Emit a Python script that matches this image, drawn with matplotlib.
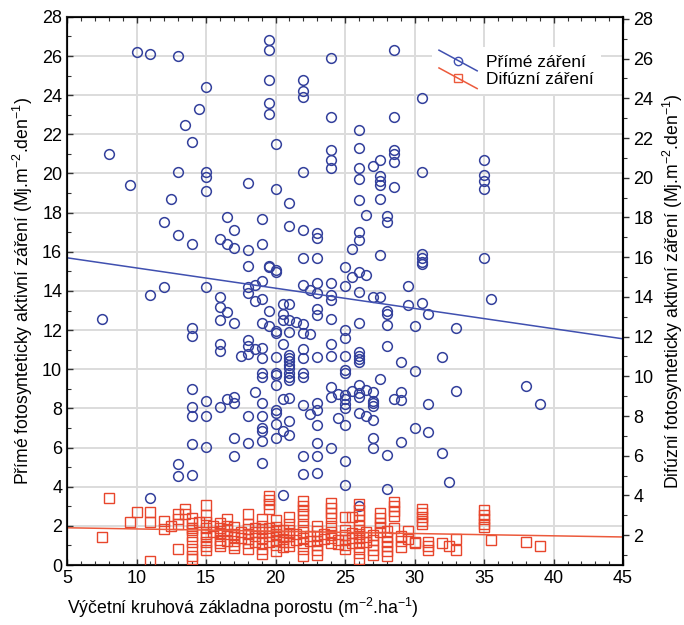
import matplotlib
matplotlib.use("Agg")
import matplotlib.pyplot as plt
from matplotlib.lines import Line2D
from matplotlib.legend_handler import HandlerBase
from matplotlib.ticker import MultipleLocator

plt.rcParams['font.family'] = ['Liberation Sans', 'DejaVu Sans']
plt.rcParams['mathtext.fontset'] = 'custom'
plt.rcParams['mathtext.rm'] = 'Liberation Sans'
plt.rcParams['mathtext.it'] = 'Liberation Sans:italic'

# Přímé záření - sloupce x a hodnoty y
prime_gx = [7.5, 8, 9.5, 10, 11, 12, 12.5, 13, 13.5, 14, 14.5, 15, 16, 16.5, 17, 17.5, 18, 18.5,
            19, 19.5, 20, 20.5, 21, 21.5, 22, 22.5, 23, 24, 24.5, 25, 25.5, 26, 26.5, 27, 27.5,
            28, 28.5, 29, 29.5, 30, 30.5, 31, 32, 32.5, 33, 35, 35.5, 38, 39]
prime_gy = [
    [12.55], [21.0], [19.4], [26.2], [26.1, 13.8, 3.4], [17.5, 14.2], [18.7],
    [26.0, 20.1, 16.85, 5.15, 4.55], [22.5],
    [21.6, 16.4, 12.1, 11.7, 9.0, 8.05, 7.6, 6.2, 4.6], [23.3],
    [24.4, 20.1, 19.8, 19.1, 14.2, 8.4, 7.6, 6.05],
    [16.65, 13.7, 13.2, 12.5, 11.3, 10.95, 8.05],
    [17.8, 16.4, 12.9, 8.5],
    [17.1, 16.2, 12.35, 8.6, 8.25, 6.5, 5.55], [10.7],
    [19.5, 16.1, 15.25, 14.2, 13.9, 11.5, 11.2, 10.8, 7.6, 6.25],
    [14.3, 13.5, 11.05, 8.85],
    [17.7, 16.4, 14.5, 13.6, 12.35, 11.1, 10.55, 9.8, 9.6, 8.3, 7.6, 7.0, 6.85, 6.35, 5.2],
    [26.8, 26.3, 24.8, 23.6, 23.05, 15.25, 15.2, 13.0, 12.2],
    [21.5, 19.2, 15.05, 14.95, 11.95, 11.85, 10.65, 9.8, 9.7, 9.2, 7.9, 7.75, 7.2, 6.5],
    [13.35, 12.8, 12.5, 11.3, 8.5, 6.85, 3.6],
    [18.5, 17.3, 13.35, 12.5, 11.9, 10.75, 10.55, 10.4, 10.2, 10.05, 9.8, 9.6, 9.45, 8.55, 7.35, 6.65],
    [12.4],
    [24.8, 24.2, 23.9, 20.1, 17.1, 15.7, 14.3, 12.3, 11.85, 11.05, 10.55, 9.8, 9.6, 8.15, 5.55, 4.65],
    [14.05, 11.8, 7.7],
    [16.95, 16.7, 15.7, 14.4, 13.9, 13.1, 12.75, 10.6, 8.3, 7.9, 7.15, 6.25, 5.55, 4.7],
    [25.9, 22.9, 21.2, 20.7, 20.3, 14.4, 13.8, 13.55, 12.55, 11.3, 10.7, 9.1, 8.6, 6.0],
    [8.75, 7.5],
    [15.2, 14.25, 12.0, 11.6, 10.7, 9.95, 9.8, 8.7, 8.5, 8.2, 8.0, 7.15, 5.3, 4.1],
    [16.15, 14.7, 8.9],
    [22.2, 21.3, 20.3, 19.7, 18.65, 17.0, 16.6, 14.95, 13.95, 12.35, 10.9, 10.7, 10.5, 10.35,
     9.2, 8.8, 8.6, 7.75, 3.0],
    [17.9, 14.8, 8.95, 7.6],
    [20.4, 13.7, 8.85, 8.4, 8.25, 8.1, 7.4, 6.5, 6.0],
    [20.7, 19.85, 19.6, 19.4, 18.7, 15.85, 13.7, 9.5],
    [17.85, 17.5, 13.0, 12.8, 12.26, 11.2, 5.6, 3.9],
    [26.3, 22.9, 21.2, 21.0, 20.6, 19.3, 8.5],
    [10.35, 8.85, 8.45, 6.3], [14.25, 13.3], [12.2, 9.9, 7.0],
    [23.85, 20.1, 15.9, 15.7, 15.5, 15.4, 13.4],
    [12.8, 8.2, 6.8], [10.6, 5.7], [4.25], [12.1, 8.9],
    [20.7, 19.9, 19.6, 19.2, 15.7], [13.6], [9.15], [8.2],
]

# Difúzní záření
difuz_gx = [7.5, 8, 9.5, 10, 11, 12, 12.5, 13, 13.5, 14, 14.5, 15, 15.5, 16, 16.5, 17, 17.5, 18,
            18.5, 19, 19.5, 20, 20.5, 21, 21.5, 22, 22.5, 23, 23.5, 24, 24.5, 25, 25.5, 26, 26.5,
            27, 27.5, 28, 28.5, 29, 29.5, 30, 30.5, 31, 32, 32.5, 33, 35, 35.5, 38, 39]
difuz_gy = [
    [1.45], [3.4], [2.2], [2.7], [2.7, 2.2, 0.2], [2.25, 1.85], [2.0], [2.6, 2.35, 2.1, 0.8],
    [2.85, 2.6], [2.4, 2.15, 1.9, 1.8, 1.5, 1.15, 0.8, 0.45, 0.3], [2.2],
    [3.05, 2.55, 2.2, 1.87, 1.6, 1.45, 1.2, 0.95, 0.77], [2.0, 1.7],
    [2.15, 1.9, 1.75, 1.6, 1.3, 1.1, 0.95], [2.35, 2.0, 1.8, 1.6, 1.25],
    [1.95, 1.6, 1.45, 1.25, 1.0, 0.85], [1.7, 1.4],
    [2.6, 2.1, 1.85, 1.6, 1.35, 1.1, 0.8], [1.9, 1.7, 1.5, 1.2],
    [2.35, 2.0, 1.85, 1.7, 1.4, 1.1, 0.8, 0.55], [3.5, 3.3, 3.1, 2.85, 1.9, 1.7, 1.5, 1.2],
    [2.3, 1.95, 1.75, 1.6, 1.3, 1.0, 0.7], [1.8, 1.5, 1.35, 1.2, 0.9],
    [2.45, 2.1, 1.8, 1.65, 1.5, 1.2, 0.95], [1.6, 1.3],
    [3.25, 3.0, 2.8, 2.6, 2.3, 2.0, 1.7, 1.4, 1.1, 0.8, 0.45], [1.5, 1.25],
    [2.0, 1.75, 1.5, 1.25, 1.0, 0.75, 0.5], [1.6, 1.35],
    [3.15, 2.9, 2.65, 2.4, 2.0, 1.7, 1.55, 1.4, 1.1], [1.3, 1.05],
    [2.45, 1.8, 1.55, 1.3, 1.0, 0.8], [2.45, 1.65, 1.4, 1.1],
    [3.1, 2.8, 2.55, 2.3, 2.0, 1.8, 1.6, 1.4, 1.15, 0.9, 0.6, 0.3], [1.7, 1.45, 1.2],
    [1.55, 1.3, 1.0, 0.75, 0.5], [2.65, 2.4, 2.15, 1.95, 1.7],
    [1.75, 1.45, 1.2, 0.95, 0.7, 0.45], [3.2, 3.0, 2.75, 2.5, 1.9],
    [1.5, 1.25, 0.9], [1.75, 1.35], [1.2, 1.1], [2.85, 2.65, 2.45, 2.25, 2.1],
    [1.15, 0.95, 0.75], [1.1], [0.95], [1.35, 0.75], [2.8, 2.55, 2.35, 2.1, 1.95], [1.3],
    [1.16], [0.97],
]

# regresni primky (abs. clen, smernice)
prime_fit = (16.21, -0.1035)
difuz_fit = (1.96, -0.01175)
fit_x = [5, 45]

blue = '#33409c'
red = '#e8462c'

px, py = [], []
for gx, ys in zip(prime_gx, prime_gy):
    px += [gx] * len(ys)
    py += ys
dx, dy = [], []
for gx, ys in zip(difuz_gx, difuz_gy):
    dx += [gx] * len(ys)
    dy += ys

fig = plt.figure(figsize=(6.84, 6.25), dpi=100)
ax = fig.add_axes([0.098, 0.096, 0.813, 0.877])

ax.plot(px, py, 'o', ms=7, mfc='none', mec=blue, mew=1.1, zorder=3)
ax.plot(dx, dy, 's', ms=7, mfc='none', mec=red, mew=1.0, zorder=4)
ax.plot(fit_x, [prime_fit[0] + prime_fit[1] * v for v in fit_x], color='#4050b0', lw=1.1, zorder=5)
ax.plot(fit_x, [difuz_fit[0] + difuz_fit[1] * v for v in fit_x], color='#ec5a3c', lw=1.1, zorder=5)

ax.set_xlim(5, 45)
ax.set_ylim(0, 28)
ax.xaxis.set_major_locator(MultipleLocator(5))
ax.xaxis.set_minor_locator(MultipleLocator(1))
ax.yaxis.set_major_locator(MultipleLocator(2))
ax.yaxis.set_minor_locator(MultipleLocator(1))
ax.grid(True, color='#dcdcdc', lw=1.4, zorder=0)
ax.set_axisbelow(True)
ax.tick_params(which='both', direction='in', top=True, right=False, labelsize=13, color='#333333')
ax.tick_params(which='major', length=4, width=1)
ax.tick_params(which='minor', length=3, width=0.8)
for s in ax.spines.values():
    s.set_linewidth(1.5)
    s.set_color('#222222')

ax2 = ax.twinx()
ax2.set_ylim(0.5, 28.1)
ax2.yaxis.set_major_locator(MultipleLocator(2))
ax2.yaxis.set_minor_locator(MultipleLocator(1))
ax2.tick_params(which='both', direction='out', labelsize=13, color='#333333')
ax2.tick_params(which='major', length=4, width=1)
ax2.tick_params(which='minor', length=3, width=0.8)
ax2.spines['right'].set_linewidth(1.5)

ax.set_ylabel('Přímé fotosynteticky aktivní záření (Mj.m$^{\\mathregular{-2}}$.den$^{\\mathregular{-1}}$)',
              fontsize=12.7, labelpad=5)
ax2.set_ylabel('Difúzní fotosynteticky aktivní záření (Mj.m$^{\\mathregular{-2}}$.den$^{\\mathregular{-1}}$)',
               fontsize=12.7, labelpad=5)
fig.text(0.098, 0.008, 'Výčetní kruhová základna porostu (m$^{\\mathregular{-2}}$.ha$^{\\mathregular{-1}}$)',
         fontsize=12.7, ha='left', va='bottom')


class DiagHandler(HandlerBase):
    def create_artists(self, legend, orig, xdescent, ydescent, width, height, fontsize, trans):
        x0, x1 = -xdescent, -xdescent + width
        y0, y1 = -ydescent - height * 0.35, -ydescent + height * 1.35
        ln = Line2D([x0, x1], [y1, y0], color=orig.get_color(), lw=1.1)
        mk = Line2D([(x0 + x1) / 2], [(y0 + y1) / 2], marker=orig.get_marker(), ms=6,
                    mfc='none', mec=orig.get_color(), mew=1.0, ls='none')
        ln.set_transform(trans)
        mk.set_transform(trans)
        return [ln, mk]


h1 = Line2D([], [], color='#4050b0', marker='o')
h2 = Line2D([], [], color='#ec5a3c', marker='s')
leg = ax.legend([h1, h2], ['Přímé záření', 'Difúzní záření'], handler_map={Line2D: DiagHandler()},
                loc='upper right', bbox_to_anchor=(0.975, 0.96), fontsize=12.5, frameon=True,
                handlelength=2.2, handletextpad=0.5, labelspacing=0.15, borderpad=0.4)
leg.get_frame().set_edgecolor('none')
leg.get_frame().set_alpha(1)
leg.set_zorder(10)

fig.savefig('out.png', dpi=100)
